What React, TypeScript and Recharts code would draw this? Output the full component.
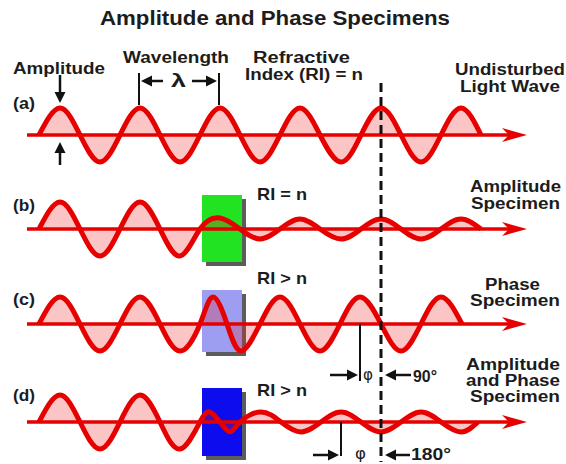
import * as React from "react";
import {
  ComposedChart,
  Area,
  XAxis,
  YAxis,
  ReferenceLine,
  ReferenceArea,
  ReferenceDot,
} from "recharts";

const WIDTH = 566;
const HEIGHT = 464;

// rest line of each wave (a)-(d)
const restLevels = [135, 229, 324, 422];

// quarter-wave points of each wave: x position and height above the rest line
const waveAX = [39, 60, 80, 100, 120, 140, 160, 180, 200, 220, 240, 260, 280, 300, 320, 341, 361, 381, 401, 421, 441, 461, 481];
const waveAH = [0, 27, 0, -27, 0, 27, 0, -27, 0, 27, 0, -27, 0, 27, 0, -27, 0, 27, 0, -27, 0, 27, 0];

const waveBX = [39, 60, 80, 100, 120, 140, 160, 180, 200, 220, 240, 260, 280, 300, 320, 341, 361, 381, 401, 421, 441, 461, 481];
const waveBH = [0, 27, 0, -27, 0, 27, 0, -27, 0, 11, 0, -10, 0, 10, 0, -10, 0, 10, 0, -10, 0, 10, 0];

const waveCX = [39, 60, 80, 100, 120, 140, 160, 180, 200, 213, 227, 241, 260, 280, 300, 320, 340, 360, 381, 401, 421, 441, 462];
const waveCH = [0, 27, 0, -27, 0, 27, 0, -27, 0, 27, 0, -27, 0, 27, 0, -27, 0, 27, 0, -27, 0, 27, 0];

const waveDX = [39, 60, 80, 100, 120, 140, 160, 180, 200, 210, 220, 230, 240, 261, 281, 301, 321, 341, 361, 381, 401, 421, 441, 461, 478];
const waveDH = [0, 27, 0, -27, 0, 27, 0, -27, 0, 10, 0, -10, 0, 10, 0, -10, 0, 10, 0, -10, 0, 10, 0, -10, 0];

const waves = [
  { xs: waveAX, hs: waveAH },
  { xs: waveBX, hs: waveBH },
  { xs: waveCX, hs: waveCH },
  { xs: waveDX, hs: waveDH },
];

// specimen blocks for (b), (c), (d)
const specimens = [
  { x1: 202, x2: 242, y1: 195, y2: 262, fill: "#22e322" },
  { x1: 202, x2: 242, y1: 290, y2: 352, fill: "#9d9df2" },
  { x1: 202, x2: 242, y1: 388, y2: 456, fill: "#0c0cee" },
];

const notes = [
  { text: "Amplitude and Phase Specimens", x: 100, y: 25, w: 350, size: 20 },
  { text: "Amplitude", x: 13, y: 74, w: 92, size: 17 },
  { text: "Wavelength", x: 123, y: 63, w: 106, size: 17 },
  { text: "Refractive", x: 253, y: 63, w: 97, size: 16 },
  { text: "Index (RI) = n", x: 245, y: 80, w: 118, size: 16 },
  { text: "Undisturbed", x: 455, y: 75, w: 110, size: 16 },
  { text: "Light Wave", x: 460, y: 92, w: 100, size: 16 },
  { text: "(a)", x: 13, y: 109, w: 22, size: 17 },
  { text: "(b)", x: 13, y: 211, w: 22, size: 17 },
  { text: "(c)", x: 13, y: 305, w: 22, size: 17 },
  { text: "(d)", x: 13, y: 401, w: 22, size: 17 },
  { text: "RI = n", x: 257, y: 200, w: 50, size: 17 },
  { text: "RI > n", x: 257, y: 284, w: 50, size: 17 },
  { text: "RI > n", x: 257, y: 396, w: 50, size: 17 },
  { text: "Amplitude", x: 470, y: 192, w: 91, size: 16 },
  { text: "Specimen", x: 471, y: 209, w: 89, size: 16 },
  { text: "Phase", x: 485, y: 290, w: 55, size: 16 },
  { text: "Specimen", x: 470, y: 306, w: 90, size: 16 },
  { text: "Amplitude", x: 466, y: 370, w: 94, size: 16 },
  { text: "and Phase", x: 466, y: 386, w: 94, size: 16 },
  { text: "Specimen", x: 470, y: 402, w: 90, size: 16 },
  { text: "90°", x: 413, y: 382, w: 24, size: 17 },
  { text: "180°", x: 411, y: 460, w: 40, size: 17 },
  { text: "λ", x: 171, y: 87, w: 15, size: 18 },
  { text: "φ", x: 363, y: 380, w: 10, size: 15, thin: true },
  { text: "φ", x: 355, y: 459, w: 11, size: 15, thin: true },
];

// black pointer arrows: [x1, y1, x2 (tip), y2 (tip)]
const pointers = [
  [60, 75, 60, 103],
  [60, 165, 60, 142],
  [163, 81, 141, 81],
  [192, 81, 217, 81],
  [330, 375, 358, 375],
  [411, 375, 385, 375],
  [313, 455, 339, 455],
  [410, 455, 385, 455],
];

// plain black ticks: [x1, y1, x2, y2]
const ticks = [
  [139, 73, 139, 105],
  [219, 73, 219, 105],
  [360, 324, 360, 381],
  [341, 422, 341, 456],
];

const RED = "#e60000";
const FONT = "'Liberation Sans', Arial, sans-serif";

function arrowShape(color: string, width: number, head: number, half: number, notch: number) {
  return (p: any) => {
    const { x1, y1, x2, y2 } = p;
    const dx = x2 - x1;
    const dy = y2 - y1;
    const len = Math.hypot(dx, dy) || 1;
    const ux = dx / len;
    const uy = dy / len;
    const bx = x2 - ux * head;
    const by = y2 - uy * head;
    const px = -uy * half;
    const py = ux * half;
    const nx = bx + ux * notch;
    const ny = by + uy * notch;
    return (
      <g>
        <line x1={x1} y1={y1} x2={nx + ux} y2={ny + uy} stroke={color} strokeWidth={width} />
        <polygon
          points={`${x2},${y2} ${bx + px},${by + py} ${nx},${ny} ${bx - px},${by - py}`}
          fill={color}
        />
      </g>
    );
  };
}

const noteShape = (n: any) => (p: any) => (
  <text
    x={p.cx}
    y={p.cy}
    fontFamily={n.thin ? "'DejaVu Sans', sans-serif" : FONT}
    fontWeight={n.thin ? 400 : 700}
    fontSize={n.size}
    fill="#1c1c1c"
    textLength={n.w}
    lengthAdjust="spacingAndGlyphs"
  >
    {n.text}
  </text>
);

export default function App() {
  return (
    <div style={{ position: "absolute", left: 0, top: 0, width: WIDTH, height: HEIGHT, background: "#fff" }}>
      <ComposedChart width={WIDTH} height={HEIGHT} margin={{ top: 0, right: 0, bottom: 0, left: 0 }}>
        <XAxis type="number" dataKey="x" domain={[0, WIDTH]} hide allowDataOverflow />
        <YAxis type="number" domain={[0, HEIGHT]} reversed hide allowDataOverflow />

        {specimens.map((s, i) => (
          <ReferenceArea
            key={`sh${i}`}
            x1={s.x1 + 4}
            x2={s.x2 + 4}
            y1={s.y1 + 4}
            y2={s.y2 + 4}
            fill="#333"
            fillOpacity={0.8}
            stroke="none"
          />
        ))}
        {specimens.map((s, i) => (
          <ReferenceArea
            key={`sp${i}`}
            x1={s.x1}
            x2={s.x2}
            y1={s.y1}
            y2={s.y2}
            fill={s.fill}
            fillOpacity={1}
            stroke="none"
          />
        ))}

        {restLevels.map((level, i) => (
          <ReferenceLine
            key={`ax${i}`}
            segment={[
              { x: 27, y: level },
              { x: 527, y: level },
            ]}
            shape={arrowShape(RED, 3.5, 25, 7, 7)}
          />
        ))}

        {waves.map((w, i) => (
          <Area
            key={`w${i}`}
            data={w.xs.map((x, j) => ({ x, y: restLevels[i] - w.hs[j] }))}
            dataKey="y"
            type="natural"
            baseValue={restLevels[i]}
            stroke={RED}
            strokeWidth={5}
            fill="#ee2020"
            fillOpacity={0.26}
            isAnimationActive={false}
            dot={false}
            activeDot={false}
          />
        ))}

        <ReferenceLine
          segment={[
            { x: 381, y: 83 },
            { x: 381, y: 462 },
          ]}
          stroke="#111"
          strokeWidth={3}
          strokeDasharray="9 5"
        />

        {ticks.map((t, i) => (
          <ReferenceLine
            key={`t${i}`}
            segment={[
              { x: t[0], y: t[1] },
              { x: t[2], y: t[3] },
            ]}
            stroke="#111"
            strokeWidth={2}
          />
        ))}

        {pointers.map((a, i) => (
          <ReferenceLine
            key={`p${i}`}
            segment={[
              { x: a[0], y: a[1] },
              { x: a[2], y: a[3] },
            ]}
            shape={arrowShape("#111", 2.5, 11, 5.5, 0)}
          />
        ))}

        {notes.map((n, i) => (
          <ReferenceDot key={`n${i}`} x={n.x} y={n.y} r={0} shape={noteShape(n)} />
        ))}
      </ComposedChart>
    </div>
  );
}
